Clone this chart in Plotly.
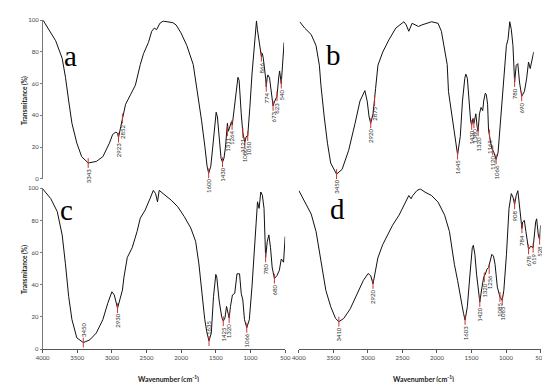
import plotly.graph_objects as go

# ---------------- Panel a ----------------
a_wn = [4000, 3900, 3816, 3722, 3674, 3627, 3580, 3509, 3439, 3344, 3226, 3131, 3036, 2989, 2942,
        2918, 2904, 2871, 2847, 2801, 2730, 2659, 2588, 2540, 2469, 2422, 2384, 2351, 2304, 2256,
        2114, 2068, 1997, 1912, 1819, 1756, 1699, 1649, 1618, 1595, 1564, 1536, 1510, 1486, 1468,
        1439, 1415, 1394, 1373, 1351, 1335, 1323, 1309, 1296, 1278, 1264, 1252, 1231, 1210, 1188,
        1170, 1153, 1139, 1122, 1099, 1085, 1071, 1054, 1042, 1028, 1014, 997, 966, 933, 911, 901,
        887, 853, 830, 816, 802, 768, 759, 745, 735, 711, 683, 660, 636, 603, 579, 565, 541, 522, 500]
a_T = [100, 93, 87, 76, 64, 49, 35, 22.5, 14, 10, 11, 14, 22.5, 28, 29.5,
       28.7, 26, 33, 38, 47, 53, 59, 72, 79, 86, 93, 95, 94, 98, 99.4,
       98.4, 97, 92, 84, 72, 55, 37, 20, 8, 3.5, 8, 20, 31, 42, 39,
       22.5, 13, 10.5, 13, 20, 33, 35, 30, 32, 34, 36, 34, 42, 52, 60,
       64, 62, 55, 41, 29, 26, 23, 26, 27, 27, 33, 45, 66, 86, 96, 99.5,
       94, 84, 77, 79, 76, 63.5, 58, 64, 65.5, 63.5, 53, 46, 49, 52, 63.5, 68, 60, 74, 86]
a_pk_label = ["3343", "2923", "2852", "1600", "1430", "1311", "1264", "1121", "1080", "1050",
              "866", "774", "673", "623", "540"]
a_pk_wn = [3344, 2904, 2847, 1595, 1394, 1323, 1255, 1099, 1071, 1028, 830, 759, 660, 603, 541]
a_pk_T = [10, 26, 38, 3.5, 10.5, 30, 34, 29, 23, 27, 77, 58, 46, 52, 60]
a_pk_above = [False] * 15

# ---------------- Panel b ----------------
b_wn = [4000, 3926, 3829, 3756, 3706, 3683, 3633, 3585, 3537, 3449, 3366, 3268, 3172, 3099, 3026,
        2991, 2962, 2938, 2903, 2880, 2865, 2830, 2757, 2661, 2563, 2442, 2407, 2369, 2319, 2223,
        2173, 2027, 1931, 1881, 1833, 1794, 1775, 1745, 1712, 1677, 1639, 1599, 1566, 1531, 1516,
        1493, 1468, 1443, 1428, 1409, 1395, 1380, 1366, 1347, 1332, 1312, 1288, 1263, 1249, 1224,
        1209, 1190, 1176, 1151, 1128, 1093, 1063, 1034, 1005, 967, 932, 909, 884, 859, 835, 811,
        786, 762, 738, 713, 680, 640, 607, 578, 553, 530, 500]
b_T = [99, 95, 91, 84, 71.6, 59, 39, 22.5, 10, 3, 6, 18, 35, 49, 55.6,
       49, 39, 35, 41, 49, 57, 71.6, 80, 88, 95, 99, 97, 93, 98, 96,
       97, 99, 98, 93, 80, 72, 55, 46, 37, 24.5, 15.3, 26.6, 49, 63.4, 66,
       63.4, 49, 36, 34, 38, 35, 39, 41, 33, 30, 41, 45, 43, 49, 54,
       53, 47, 30.7, 24.5, 19.4, 16.4, 12.3, 16.4, 33, 53, 73.6, 84, 88, 99, 94, 84,
       61, 71.6, 72.6, 61, 52, 55, 63, 73.6, 69.5, 73.6, 80]
b_pk_label = ["3450", "2920", "2875", "1645", "1430", "1380", "1320", "1165", "1120", "1066", "780", "690"]
b_pk_wn = [3449, 2938, 2880, 1639, 1428, 1395, 1332, 1161, 1113, 1063, 786, 680]
b_pk_T = [3, 35, 49, 15.3, 34, 35, 30, 28, 18, 12.3, 61, 52]
b_pk_above = [False] * 12

# ---------------- Panel c ----------------
c_wn = [4000, 3883, 3789, 3718, 3671, 3624, 3577, 3507, 3413, 3319, 3225, 3131, 3060, 3000, 2966,
        2919, 2887, 2849, 2826, 2778, 2708, 2638, 2591, 2520, 2450, 2403, 2370, 2342, 2318, 2262,
        2144, 2050, 1956, 1862, 1792, 1745, 1712, 1684, 1660, 1628, 1599, 1566, 1534, 1501, 1487,
        1454, 1416, 1393, 1369, 1346, 1322, 1308, 1289, 1261, 1228, 1195, 1158, 1134, 1111, 1087,
        1054, 1017, 979, 946, 923, 899, 876, 852, 829, 805, 782, 758, 735, 711, 688, 655, 617,
        584, 556, 523, 500]
c_T = [99.7, 93.6, 85.5, 71, 53, 32.6, 18.3, 7, 4, 5.7, 10, 18.3, 28.5, 35.6, 33.6,
       25.4, 30.5, 36.6, 44.8, 57, 63, 73, 81.4, 86.5, 93.6, 98.7, 96.7, 91.6, 98.7, 96.7,
       92.6, 88.5, 82.4, 75.3, 67, 53, 38.7, 24.4, 18.3, 10, 5, 10, 32.6, 46.4, 44.8,
       30.5, 20, 17.3, 19.3, 26.5, 22.4, 19.3, 26.5, 33.6, 34.6, 46.8, 46.8, 34.6, 30.5, 18.3,
       13.2, 18.3, 38.7, 63, 81.4, 91.6, 87.5, 97.7, 95.7, 87.5, 57, 67, 71, 63, 51, 43.8, 45.8,
       48.9, 56, 54, 70]
c_pk_label = ["3450", "2930", "1635", "1425", "1320", "1066", "780", "680"]
c_pk_wn = [3413, 2919, 1599, 1393, 1308, 1054, 782, 655]
c_pk_T = [4, 25.4, 5, 17.3, 19.3, 13.2, 57, 43.8]
c_pk_above = [True, False, True, False, False, False, False, False]

# ---------------- Panel d ----------------
d_wn = [4000, 3915, 3821, 3750, 3703, 3656, 3609, 3538, 3468, 3420, 3350, 3256, 3161, 3067, 2997,
        2959, 2926, 2893, 2855, 2785, 2714, 2643, 2549, 2455, 2408, 2375, 2351, 2290, 2243, 2172,
        2078, 1984, 1889, 1819, 1748, 1701, 1654, 1616, 1593, 1560, 1522, 1489, 1474, 1451, 1427,
        1394, 1380, 1348, 1324, 1300, 1276, 1253, 1229, 1206, 1182, 1159, 1126, 1088, 1055, 1032,
        994, 957, 924, 900, 876, 853, 829, 805, 783, 770, 759, 735, 712, 674, 641, 608, 571, 557,
        533, 514, 500]
d_T = [98.6, 91.4, 84, 73, 61, 48.7, 36.5, 26.3, 19, 17, 19, 25, 34.4, 42.6, 47,
       45.6, 40.5, 48.7, 56.8, 65, 71, 77, 83.3, 91.4, 95.5, 93.5, 95.5, 98.6, 99.6, 97.6,
       95.5, 91.4, 83.3, 73, 52.7, 42.6, 30.3, 22.2, 18, 26.3, 46.6, 63, 64.5, 58.9, 46.6,
       32.4, 29.3, 38.5, 44.6, 46.6, 49.7, 50.7, 54.8, 58.9, 57.8, 52.7, 38.5, 32.4, 30.3, 36.5,
       58.9, 87.4, 96.7, 94.5, 90, 95.5, 98.5, 89.4, 84, 75, 79, 80, 73, 62, 64, 63, 79, 81,
       71, 68, 77]
d_pk_label = ["3410", "2920", "1603", "1420", "1320", "1256", "1085", "1065", "908", "784", "678", "619", "528"]
d_pk_wn = [3420, 2926, 1593, 1380, 1315, 1244, 1088, 1055, 876, 770, 674, 608, 514]
d_pk_T = [17, 40.5, 18, 29.3, 44.6, 49.7, 32.4, 30.3, 90, 75, 62, 63, 68]
d_pk_above = [False] * 13

W, H = 550, 382


def fx(px):
    return px / W


def fy(py):
    return 1 - py / H


fig = go.Figure()
panels = [
    ("a", a_wn, a_T, a_pk_label, a_pk_wn, a_pk_T, a_pk_above, "x", "y"),
    ("b", b_wn, b_T, b_pk_label, b_pk_wn, b_pk_T, b_pk_above, "x2", "y2"),
    ("c", c_wn, c_T, c_pk_label, c_pk_wn, c_pk_T, c_pk_above, "x3", "y3"),
    ("d", d_wn, d_T, d_pk_label, d_pk_wn, d_pk_T, d_pk_above, "x4", "y4"),
]

annotations = []
for name, wn, T, lab, pw, pT, above, xa, ya in panels:
    fig.add_trace(go.Scatter(x=wn, y=T, mode="lines", xaxis=xa, yaxis=ya,
                             line=dict(color="#111111", width=1), showlegend=False,
                             hoverinfo="skip"))
    fig.add_trace(go.Scatter(x=pw, y=pT, mode="markers", xaxis=xa, yaxis=ya,
                             marker=dict(symbol="line-ns", size=7,
                                         line=dict(color="#cc3333", width=1)),
                             showlegend=False, cliponaxis=False, hoverinfo="skip"))
    for l, x, y, ab in zip(lab, pw, pT, above):
        annotations.append(dict(x=x, y=y, xref=xa, yref=ya, text=l, showarrow=False,
                                textangle=-90, xanchor="center",
                                yanchor="bottom" if ab else "top",
                                yshift=4 if ab else -4,
                                font=dict(family="Lato", size=6, color="#333333")))

# panel letters
for txt, px, py in [("a", 57, 45), ("b", 326, 44), ("c", 53, 202), ("d", 330, 201)]:
    annotations.append(dict(x=fx(px), y=fy(py), xref="paper", yref="paper", text=txt,
                            showarrow=False, xanchor="center", yanchor="middle",
                            font=dict(family="Liberation Serif", size=29, color="#000000")))

# axis titles
for px, py in [(157, 374), (418, 374)]:
    annotations.append(dict(x=fx(px), y=fy(py), xref="paper", yref="paper",
                            text="<b>Wavenumber (cm<sup>-1</sup>)</b>", showarrow=False,
                            xanchor="center", yanchor="middle",
                            font=dict(family="Lato", size=7, color="#222222")))
for px, py in [(10, 90), (9, 262)]:
    annotations.append(dict(x=fx(px), y=fy(py), xref="paper", yref="paper",
                            text="<b>Transmitance (%)</b>", showarrow=False, textangle=-90,
                            xanchor="center", yanchor="middle",
                            font=dict(family="Lato", size=6.5, color="#222222")))

hidden = dict(showline=False, showticklabels=False, ticks="", showgrid=False, zeroline=False)
yvis = dict(range=[0, 100], showline=True, linecolor="#777777", linewidth=1, ticks="outside",
            ticklen=2, tickcolor="#777777", tickvals=[0, 20, 40, 60, 80, 100], showgrid=False,
            zeroline=False, tickfont=dict(family="Lato", size=6, color="#444444"))
xvis = dict(range=[4000, 500], showline=True, linecolor="#555555", linewidth=1, ticks="outside",
            ticklen=3, tickcolor="#555555", tickvals=[4000, 3500, 3000, 2500, 2000, 1500, 1000, 500],
            showgrid=False, zeroline=False, tickfont=dict(family="Lato", size=6, color="#444444"))

fig.update_layout(
    width=W, height=H, margin=dict(l=0, r=0, t=0, b=0),
    paper_bgcolor="white", plot_bgcolor="white",
    xaxis=dict(domain=[fx(28.7), fx(275.6)], range=[4000, 500], anchor="y", **hidden),
    yaxis=dict(domain=[fy(170), fy(8.3)], anchor="x", **yvis),
    xaxis2=dict(domain=[fx(291.6), fx(531.3)], range=[4000, 500], anchor="y2", **hidden),
    yaxis2=dict(domain=[fy(170), fy(8.3)], range=[0, 100], anchor="x2", **hidden),
    xaxis3=dict(domain=[fx(28.3), fx(276.7)], anchor="y3", **xvis),
    yaxis3=dict(domain=[fy(343.3), fy(179.6)], anchor="x3", **yvis),
    xaxis4=dict(domain=[fx(290.7), fx(538.3)], anchor="y4", **xvis),
    yaxis4=dict(domain=[fy(343.3), fy(179.6)], range=[0, 100], anchor="x4", **hidden),
    annotations=annotations,
)

fig.write_html("out.html")
